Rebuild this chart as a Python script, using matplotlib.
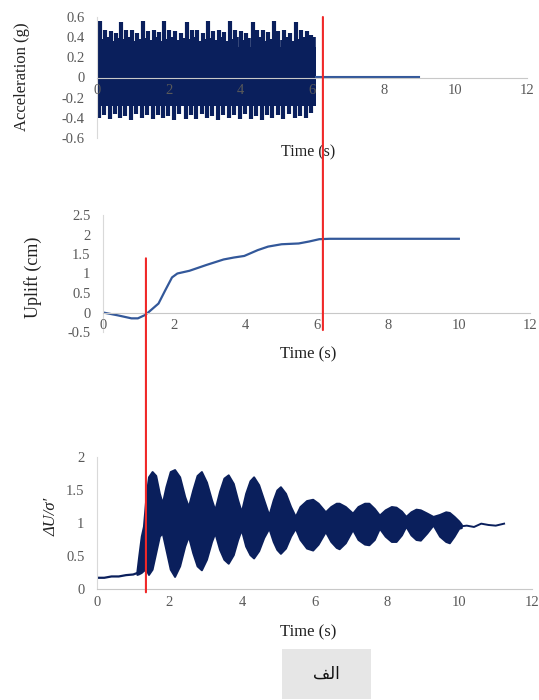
import matplotlib
matplotlib.use('Agg')
import matplotlib.pyplot as plt
from matplotlib.patches import ConnectionPatch, Rectangle
from matplotlib.transforms import blended_transform_factory

plt.rcParams['font.family'] = ['Liberation Serif', 'DejaVu Serif']

NAVY = '#0a1f5c'
BLUE = '#33589a'
RED = '#f02828'
TICK = '#595959'
AXIS = '#c8c8c8'

x_ticks = [0, 2, 4, 6, 8, 10, 12]

# --- base acceleration record (g) ---
acc_band_t = [0.0, 6.1]
acc_band_hi = [0.30, 0.30]
acc_band_lo = [-0.28, -0.28]
acc_up_t = [0.09, 0.22, 0.38, 0.52, 0.68, 0.81, 0.98, 1.12, 1.29, 1.42, 1.58, 1.72,
            1.88, 2.01, 2.18, 2.34, 2.51, 2.64, 2.80, 2.95, 3.11, 3.24, 3.40, 3.55,
            3.71, 3.84, 4.01, 4.17, 4.34, 4.47, 4.63, 4.78, 4.93, 5.06, 5.23, 5.39,
            5.56, 5.69, 5.85, 5.98]
acc_up = [0.56, 0.47, 0.46, 0.44, 0.55, 0.47, 0.47, 0.44, 0.56, 0.46, 0.47, 0.45,
          0.56, 0.47, 0.46, 0.44, 0.55, 0.47, 0.47, 0.44, 0.56, 0.46, 0.47, 0.45,
          0.56, 0.47, 0.46, 0.44, 0.55, 0.47, 0.47, 0.45, 0.56, 0.46, 0.47, 0.44,
          0.55, 0.47, 0.46, 0.42]
acc_mid_t = [0.15, 0.30, 0.45, 0.60, 0.74, 0.90, 1.05, 1.20, 1.35, 1.50, 1.65, 1.80,
             1.95, 2.10, 2.26, 2.42, 2.57, 2.72, 2.88, 3.03, 3.17, 3.32, 3.48, 3.63,
             3.77, 3.92, 4.09, 4.25, 4.40, 4.55, 4.70, 4.86, 5.00, 5.15, 5.31, 5.47,
             5.62, 5.77, 5.92, 6.05]
acc_mid = [0.38, 0.40, 0.36, 0.39, 0.38, 0.40, 0.36, 0.38, 0.39, 0.37, 0.40, 0.36,
           0.38, 0.40, 0.37, 0.39, 0.38, 0.40, 0.36, 0.38, 0.39, 0.37, 0.40, 0.36,
           0.38, 0.40, 0.37, 0.39, 0.38, 0.40, 0.36, 0.38, 0.39, 0.37, 0.40, 0.36,
           0.38, 0.40, 0.37, 0.40]
acc_dn_t = [0.05, 0.20, 0.35, 0.50, 0.64, 0.79, 0.95, 1.10, 1.25, 1.40, 1.55, 1.70,
            1.84, 1.99, 2.15, 2.30, 2.47, 2.62, 2.77, 2.92, 3.07, 3.22, 3.37, 3.52,
            3.67, 3.82, 3.98, 4.13, 4.30, 4.45, 4.60, 4.75, 4.89, 5.04, 5.20, 5.35,
            5.52, 5.67, 5.82, 5.97]
acc_dn = [-0.40, -0.37, -0.41, -0.36, -0.40, -0.38, -0.42, -0.36, -0.40, -0.37, -0.41, -0.37,
          -0.40, -0.38, -0.42, -0.36, -0.41, -0.37, -0.41, -0.36, -0.40, -0.38, -0.42, -0.37,
          -0.40, -0.37, -0.41, -0.36, -0.41, -0.38, -0.42, -0.37, -0.40, -0.37, -0.41, -0.36,
          -0.40, -0.38, -0.40, -0.35]
acc_tail_t = [6.1, 9.0]
acc_tail = [0.005, 0.005]

# --- footing uplift (cm) ---
up_t = [0.0, 0.4, 0.8, 0.98, 1.17, 1.27, 1.56, 1.75, 1.94, 2.09, 2.43, 2.91, 3.39,
        3.68, 3.97, 4.35, 4.64, 5.02, 5.5, 5.79, 6.08, 6.37, 6.76, 8.0, 10.0]
uplift = [0.0, -0.07, -0.15, -0.15, -0.07, 0.0, 0.23, 0.57, 0.9, 1.0, 1.07, 1.22, 1.36,
          1.41, 1.45, 1.6, 1.69, 1.75, 1.77, 1.82, 1.88, 1.89, 1.89, 1.89, 1.89]

# --- excess pore pressure ratio ---
pp_base_t = [0.0, 0.2, 0.4, 0.6, 0.8, 1.0, 1.1]
pp_base = [0.17, 0.17, 0.19, 0.19, 0.21, 0.22, 0.24]
pp_t = [1.10, 1.15, 1.22, 1.28, 1.35, 1.42, 1.52, 1.62, 1.72, 1.80, 1.90, 2.02, 2.14,
        2.28, 2.42, 2.52, 2.64, 2.76, 2.88, 3.02, 3.16, 3.25, 3.38, 3.50, 3.62, 3.76,
        3.88, 3.98, 4.10, 4.22, 4.32, 4.46, 4.60, 4.74, 4.86, 4.96, 5.06, 5.20, 5.34,
        5.47, 5.60, 5.78, 5.95, 6.10, 6.30, 6.45, 6.60, 6.68, 6.85, 7.05, 7.20, 7.38,
        7.50, 7.65, 7.79, 7.95, 8.12, 8.25, 8.40, 8.52, 8.66, 8.80, 8.92, 9.10, 9.27,
        9.45, 9.62, 9.72, 9.85, 9.98, 10.05]
pp_hi = [0.27, 0.50, 0.80, 0.95, 1.40, 1.70, 1.78, 1.72, 1.45, 1.30, 1.55, 1.78, 1.81,
         1.70, 1.40, 1.25, 1.50, 1.72, 1.78, 1.62, 1.35, 1.20, 1.48, 1.68, 1.73, 1.60,
         1.35, 1.17, 1.45, 1.64, 1.70, 1.58, 1.35, 1.12, 1.35, 1.50, 1.55, 1.45, 1.25,
         1.10, 1.25, 1.34, 1.36, 1.30, 1.17, 1.25, 1.30, 1.30, 1.25, 1.15, 1.25, 1.30,
         1.30, 1.22, 1.12, 1.20, 1.25, 1.24, 1.18, 1.10, 1.17, 1.21, 1.20, 1.15, 1.10,
         1.13, 1.17, 1.16, 1.10, 1.03, 0.98]
pp_lo = [0.22, 0.23, 0.25, 0.28, 0.30, 0.22, 0.30, 0.55, 0.80, 0.85, 0.60, 0.30, 0.19,
         0.35, 0.65, 0.80, 0.55, 0.35, 0.29, 0.45, 0.72, 0.85, 0.60, 0.45, 0.39, 0.52,
         0.75, 0.90, 0.65, 0.52, 0.47, 0.58, 0.78, 0.92, 0.72, 0.60, 0.54, 0.62, 0.80,
         0.92, 0.75, 0.62, 0.59, 0.68, 0.87, 0.72, 0.63, 0.61, 0.70, 0.90, 0.75, 0.68,
         0.67, 0.75, 0.92, 0.80, 0.72, 0.72, 0.82, 0.95, 0.82, 0.75, 0.74, 0.85, 0.97,
         0.80, 0.72, 0.70, 0.80, 0.92, 0.93]
pp_tail_t = [10.05, 10.2, 10.4, 10.6, 10.8, 11.0, 11.23]
pp_tail = [0.95, 0.96, 0.94, 0.99, 0.97, 0.96, 0.99]

W, H = 539, 700
fig = plt.figure(figsize=(W / 100, H / 100), dpi=100)


def px_axes(left, right, top, bottom):
    return fig.add_axes([left / W, 1 - bottom / H, (right - left) / W, (bottom - top) / H])


def style(ax, yticks, ylabels):
    for s in ['top', 'right']:
        ax.spines[s].set_visible(False)
    ax.spines['left'].set_color('#d9d9d9')
    ax.spines['bottom'].set_color(AXIS)
    ax.spines['bottom'].set_position(('data', 0))
    ax.set_xlim(0, 12)
    ax.set_xticks(x_ticks)
    ax.set_xticklabels([str(v) for v in x_ticks])
    ax.set_yticks(yticks)
    ax.set_yticklabels(ylabels)
    ax.tick_params(length=0, labelsize=10.5, colors=TICK)
    ax.tick_params(axis='y', pad=9)
    ax.tick_params(axis='x', pad=5)
    ax.set_axisbelow(False)
    ax.patch.set_alpha(0)


# acceleration
ax1 = px_axes(97, 527, 17, 138)
ax1.set_ylim(-0.6, 0.6)
ax1.fill_between(acc_band_t, acc_band_lo, acc_band_hi, color=NAVY, lw=0, zorder=1)
ax1.vlines(acc_mid_t, 0, acc_mid, color=NAVY, lw=2.6, zorder=1)
ax1.vlines(acc_up_t, 0, acc_up, color=NAVY, lw=3.0, zorder=1)
ax1.vlines(acc_dn_t, acc_dn, 0, color=NAVY, lw=3.0, zorder=1)
ax1.plot(acc_tail_t, acc_tail, color=BLUE, lw=1.5, zorder=1)
style(ax1, [-0.6, -0.4, -0.2, 0, 0.2, 0.4, 0.6],
      ['-0.6', '-0.4', '-0.2', '0', '0.2', '0.4', '0.6'])

# uplift
ax2 = px_axes(103, 530, 215, 332)
ax2.set_ylim(-0.5, 2.5)
ax2.plot(up_t, uplift, color=BLUE, lw=1.6)
style(ax2, [-0.5, 0, 0.5, 1, 1.5, 2, 2.5], ['-0.5', '0', '0.5', '1', '1.5', '2', '2.5'])

# pore pressure ratio
ax3 = px_axes(97, 532, 457, 589)
ax3.set_ylim(0, 2)
ax3.plot(pp_base_t, pp_base, color=NAVY, lw=1.6)
ax3.fill_between(pp_t, pp_lo, pp_hi, color=NAVY, lw=1.4, edgecolor=NAVY)
ax3.plot(pp_tail_t, pp_tail, color=NAVY, lw=1.4)
style(ax3, [0, 0.5, 1, 1.5, 2], ['0', '0.5', '1', '1.5', '2'])

# axis titles
fig.text(308 / W, 1 - 152 / H, 'Time (s)', ha='center', va='center', fontsize=11.5, color='#222222')
fig.text(308 / W, 1 - 354 / H, 'Time (s)', ha='center', va='center', fontsize=12, color='#222222')
fig.text(308 / W, 1 - 632 / H, 'Time (s)', ha='center', va='center', fontsize=12, color='#222222')
fig.text(22 / W, 1 - 77 / H, 'Acceleration (g)', ha='center', va='center', rotation=90,
         fontsize=12, color='#222222')
fig.text(33 / W, 1 - 277 / H, 'Uplift (cm)', ha='center', va='center', rotation=90,
         fontsize=13, color='#222222')
fig.text(52 / W, 1 - 517 / H, 'ΔU/σ′', ha='center', va='center', rotation=90,
         fontsize=12, style='italic', color='#222222')

# red markers linking the panels
tr_a = blended_transform_factory(ax2.transData, ax1.transData)
fig.add_artist(ConnectionPatch(xyA=(6.18, 0.6), coordsA=tr_a, xyB=(6.18, -0.45),
                               coordsB=ax2.transData, color=RED, lw=1.5, zorder=5))
tr_b = blended_transform_factory(ax3.transData, ax2.transData)
fig.add_artist(ConnectionPatch(xyA=(1.35, 1.39), coordsA=tr_b, xyB=(1.35, -0.05),
                               coordsB=ax3.transData, color=RED, lw=1.5, zorder=5))

# caption box (Arabic "alef" written in joined presentation forms, visual order)
fig.add_artist(Rectangle((282 / W, 1 - 699 / H), 89 / W, 50 / H, transform=fig.transFigure,
                         facecolor='#e6e6e6', edgecolor='none'))
fig.text(326 / W, 1 - 674 / H, '\ufed2\ufedf\ufe8d', ha='center', va='center',
         fontsize=12, family=['DejaVu Sans'], color='#111111')

fig.savefig('out.png', dpi=100)
